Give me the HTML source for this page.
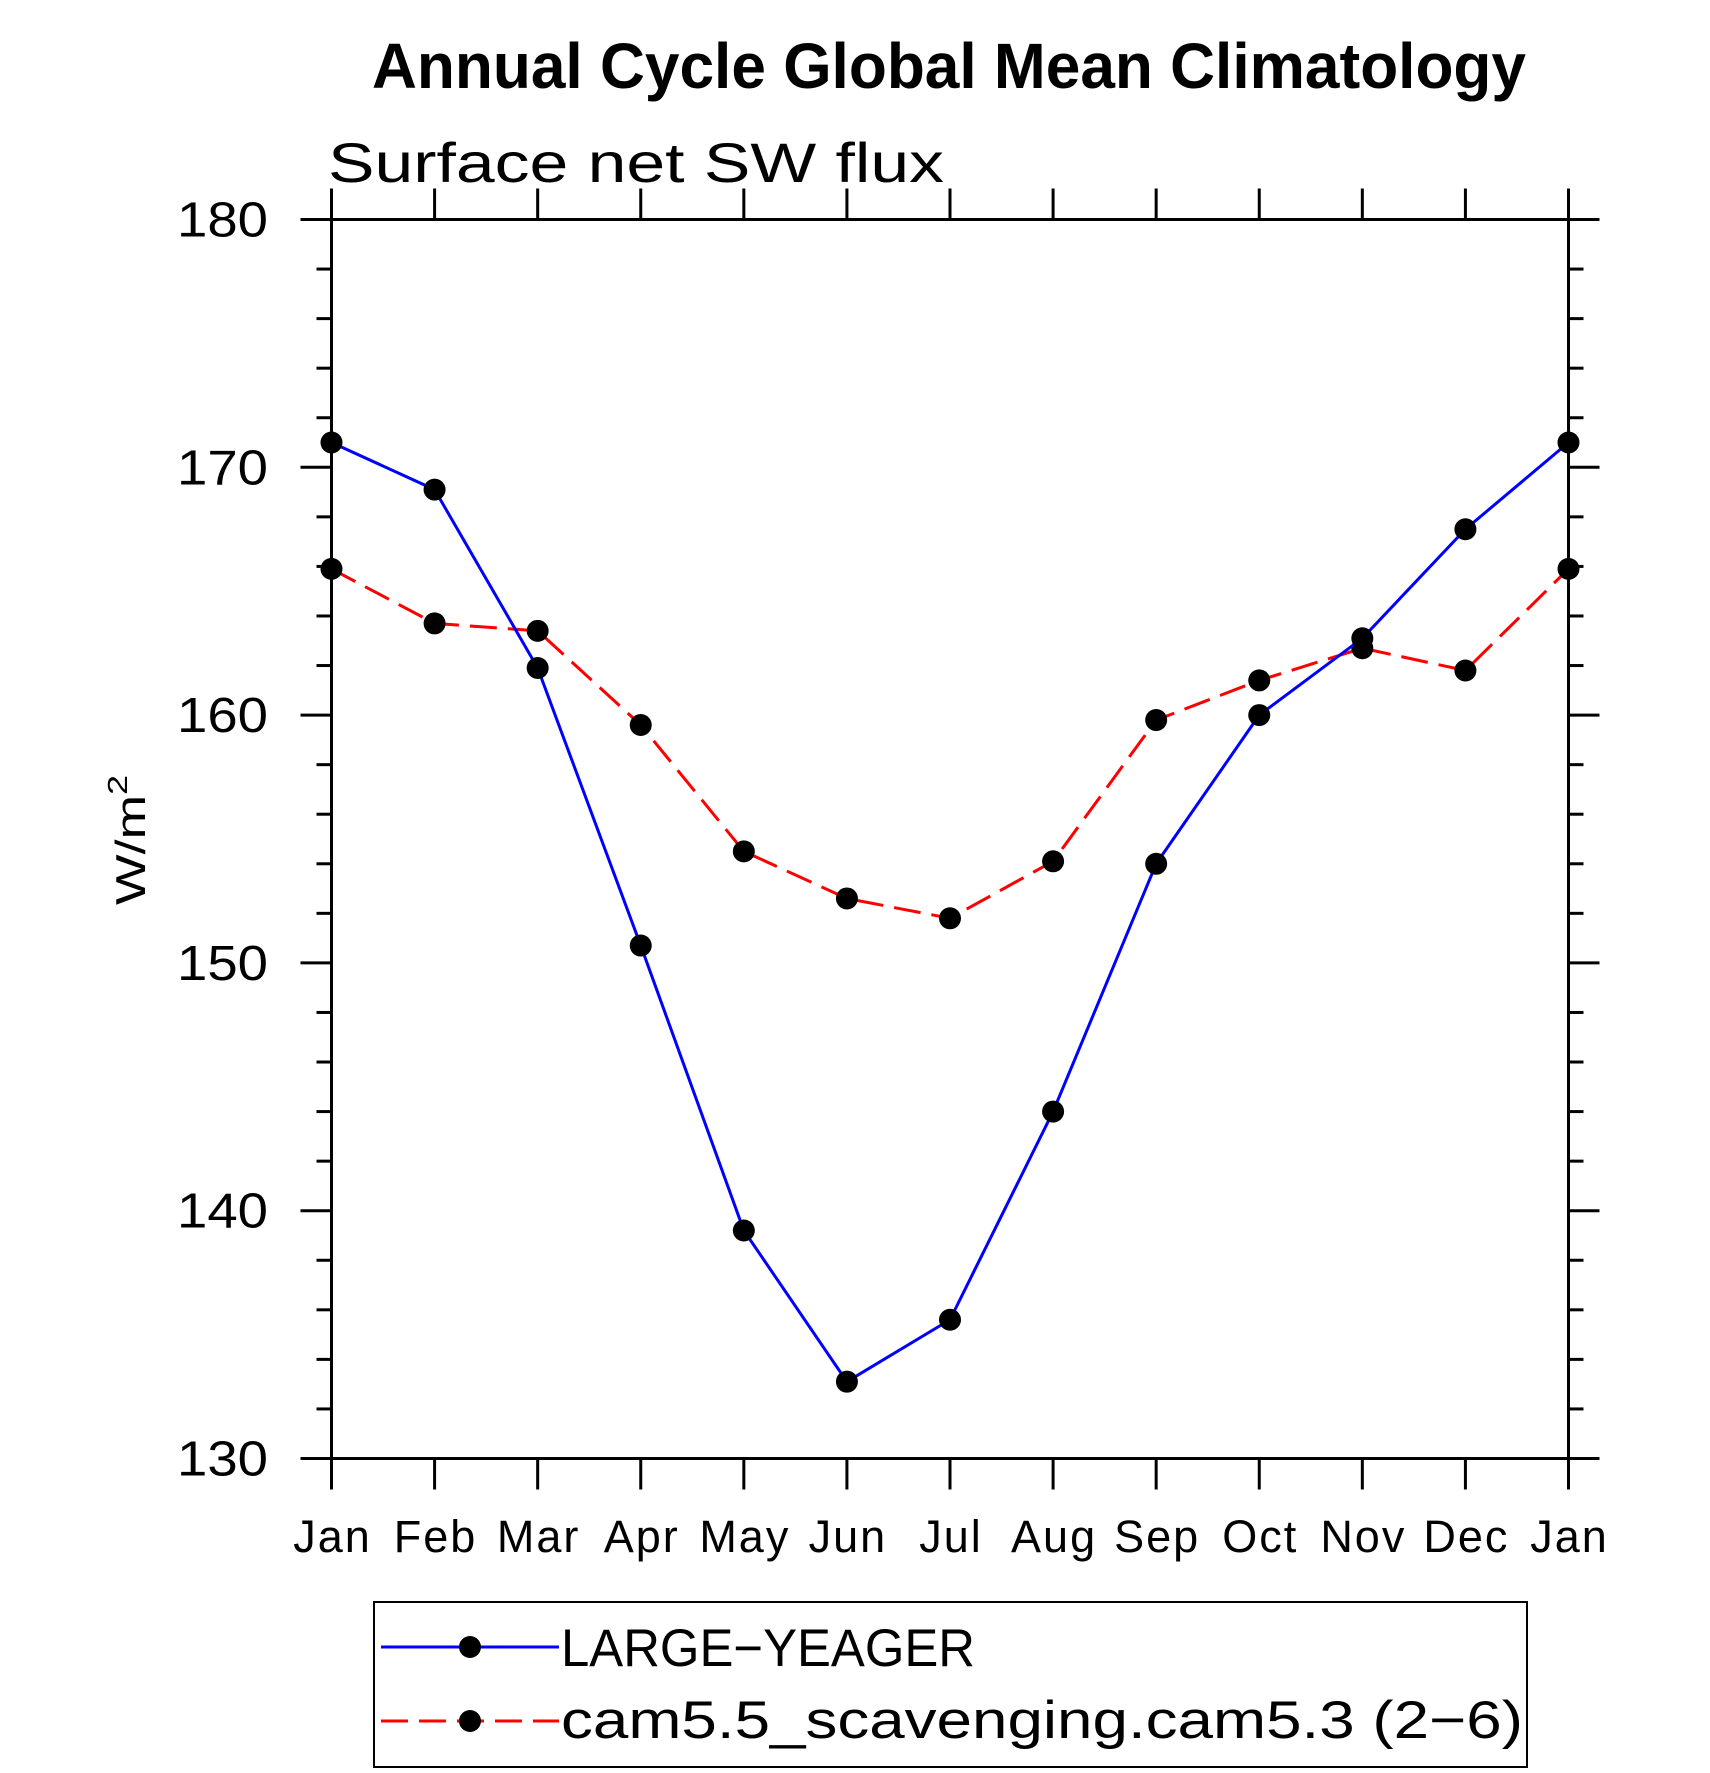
<!DOCTYPE html>
<html><head><meta charset="utf-8"><style>
html,body{margin:0;padding:0;background:#fff;}
svg{display:block;font-family:"Liberation Sans",sans-serif;}
</style></head><body>
<svg id="chart" width="1710" height="1773" viewBox="0 0 1710 1773" xmlns="http://www.w3.org/2000/svg">
<text x="372" y="88" font-size="64" font-weight="bold" textLength="1154" lengthAdjust="spacingAndGlyphs">Annual Cycle Global Mean Climatology</text>
<text x="328" y="182" font-size="56" textLength="616" lengthAdjust="spacingAndGlyphs">Surface net SW flux</text>
<text transform="translate(145,905) rotate(-90)" font-size="42" textLength="130" lengthAdjust="spacingAndGlyphs">W/m<tspan dy="-18" font-size="28">2</tspan></text>
<g id="axes"></g>
<g id="series"></g>
<g>
<rect x="374" y="1602" width="1153" height="165" fill="none" stroke="#000" stroke-width="2"/>
<g>
<line x1="381" y1="1647" x2="559" y2="1647" stroke="#0000ff" stroke-width="3"/>
<circle cx="470" cy="1647" r="11" fill="#000"/>
<text x="561" y="1666" font-size="53" textLength="414" lengthAdjust="spacingAndGlyphs">LARGE−YEAGER</text>
</g>
<g>
<line x1="381" y1="1721" x2="559" y2="1721" stroke="#ff0000" stroke-width="3" stroke-dasharray="27,11"/>
<circle cx="470" cy="1721" r="11" fill="#000"/>
<text x="561" y="1738" font-size="53" textLength="962" lengthAdjust="spacingAndGlyphs">cam5.5_scavenging.cam5.3 (2−6)</text>
</g>
</g>
</svg>
<script>
const months = ["Jan","Feb","Mar","Apr","May","Jun","Jul","Aug","Sep","Oct","Nov","Dec","Jan"];
const largeYeager = [171.0,169.1,161.9,150.7,139.2,133.1,135.6,144.0,154.0,160.0,163.1,167.5,171.0];
const cam55 = [165.9,163.7,163.4,159.6,154.5,152.6,151.8,154.1,159.8,161.4,162.7,161.8,165.9];
const yTicks = [130,140,150,160,170,180];
const yMin = 130, yMax = 180;
const L=331.5, R=1568.5, T=219.5, B=1458.5;
const NS="http://www.w3.org/2000/svg";
function xs(i){return L+(R-L)*i/(months.length-1);}
function ys(v){return B-(B-T)*(v-yMin)/(yMax-yMin);}
function mk(tag,attrs,parent){const e=document.createElementNS(NS,tag);for(const k in attrs)e.setAttribute(k,attrs[k]);parent.appendChild(e);return e;}
const ax=document.getElementById('axes');
const frame=mk('rect',{x:L,y:T,width:R-L,height:B-T,fill:'none',stroke:'#000','stroke-width':3},ax);


months.forEach((m,i)=>{
  const x=xs(i);
  mk('line',{x1:x,y1:B,x2:x,y2:B+31,stroke:'#000','stroke-width':3},ax);
  mk('line',{x1:x,y1:T,x2:x,y2:T-31,stroke:'#000','stroke-width':3},ax);
  const t=mk('text',{x:x+1,y:1552,'font-size':45,'text-anchor':'middle','letter-spacing':2},ax);
  t.textContent=m;
  
  
});
for(let v=yMin; v<=yMax; v+=2){
  const y=ys(v);
  const major=(v%10===0);
  const len=major?31:15;
  mk('line',{x1:L-len,y1:y,x2:L,y2:y,stroke:'#000','stroke-width':3},ax);
  mk('line',{x1:R,y1:y,x2:R+len,y2:y,stroke:'#000','stroke-width':3},ax);
}
yTicks.forEach(v=>{
  const t=mk('text',{x:268,y:ys(v)+17,'font-size':49,'text-anchor':'end',textLength:91,lengthAdjust:'spacingAndGlyphs'},ax);
  t.textContent=String(v);
  
  
});
const sg=document.getElementById('series');
function drawSeries(vals,color,dash,name){
  const pts=vals.map((v,i)=>xs(i)+','+ys(v)).join(' ');
  const pl=mk('polyline',{points:pts,fill:'none',stroke:color,'stroke-width':3},sg);
  if(dash)pl.setAttribute('stroke-dasharray',dash);
  
  
  vals.forEach((v,i)=>{
    const c=mk('circle',{cx:xs(i),cy:ys(v),r:11,fill:'#000'},sg);
    
    
  });
}
drawSeries(cam55,'#ff0000','27,11','cam5-5');
drawSeries(largeYeager,'#0000ff',null,'large-yeager');
</script>
</body></html>
